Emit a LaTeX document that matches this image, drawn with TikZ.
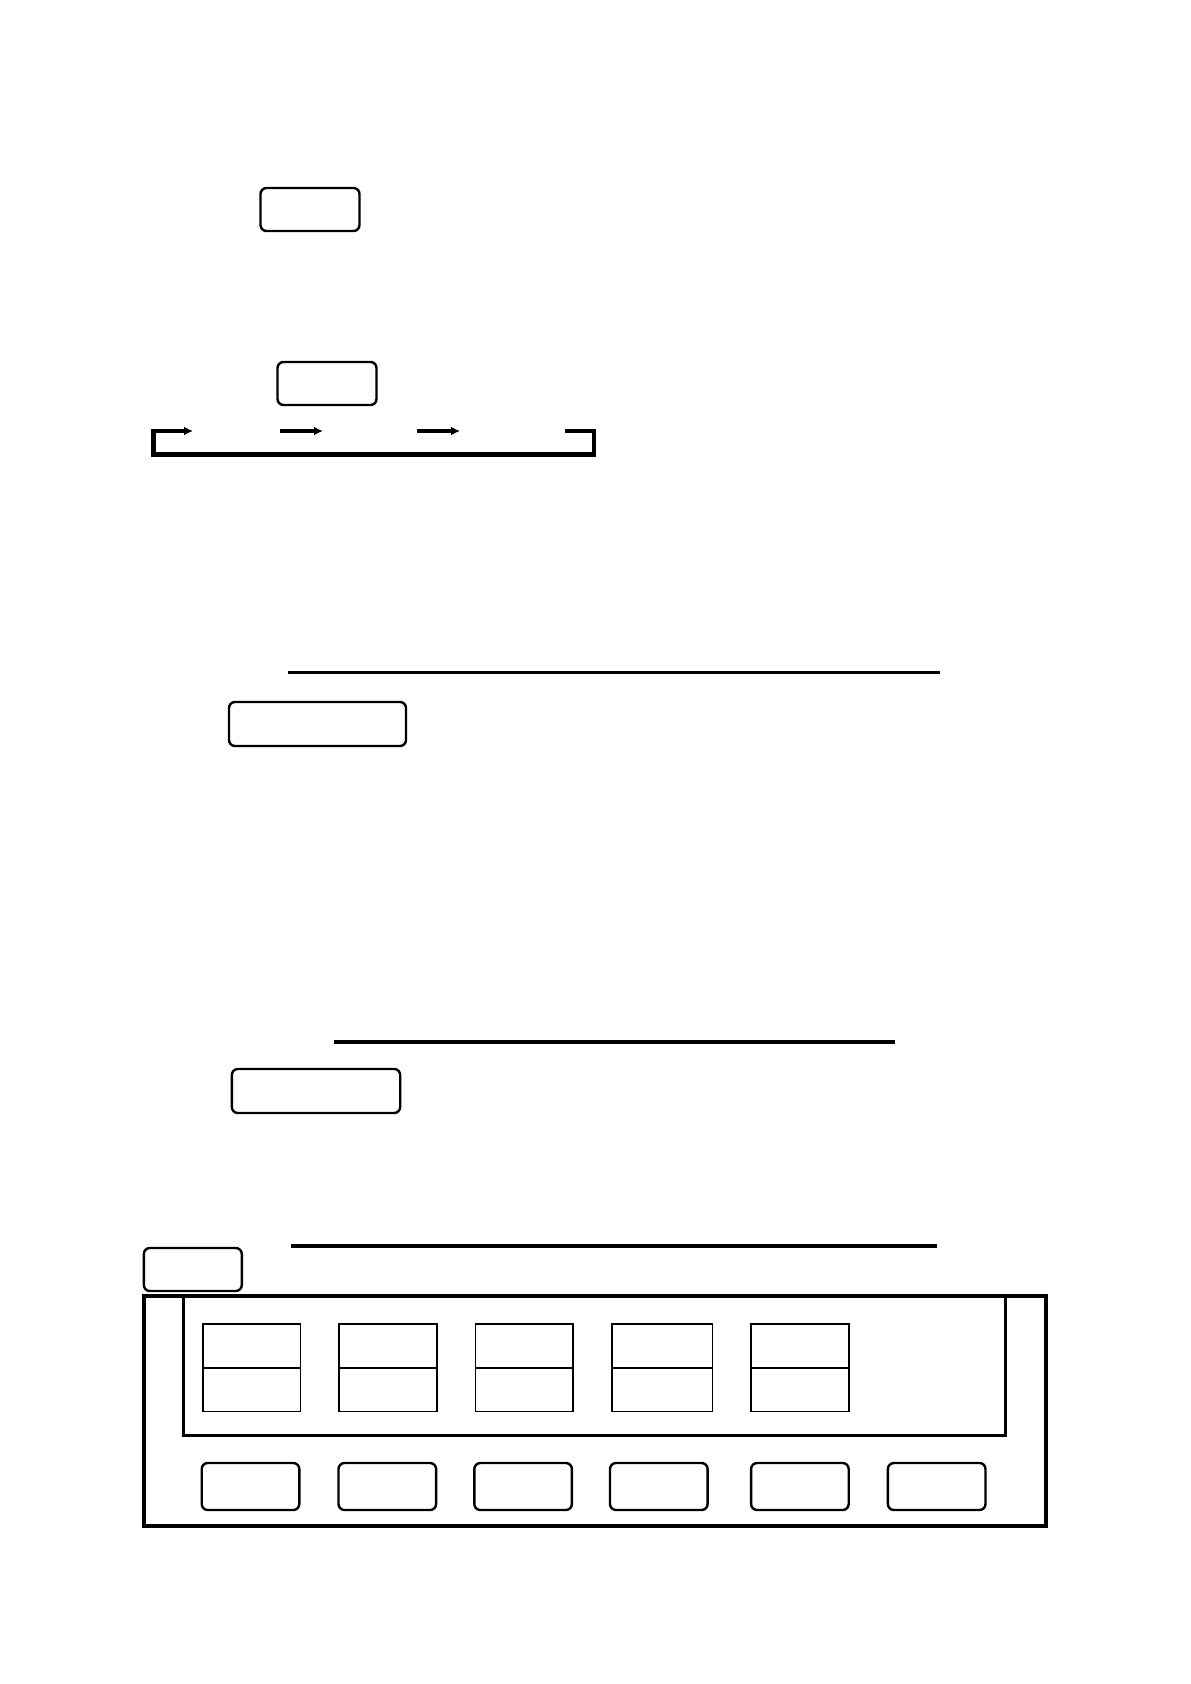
\documentclass[tikz,border=0pt]{standalone}
\usepackage{tikz}
\usetikzlibrary{arrows.meta,positioning}
\tikzstyle{tag}   =[draw, rounded corners=3pt, line width=1.2pt,
                    inner sep=0pt, minimum height=21.5pt]
\tikzstyle{keycap}=[tag, minimum width=48.8pt, minimum height=23.5pt]
\tikzstyle{cell}  =[draw, line width=0.9pt, inner sep=0pt,
                    outer sep=0pt, minimum width=48.8pt,
                    minimum height=21.8pt]
\tikzstyle{rule}  =[line width=1.5pt]
\tikzstyle{bar}   =[line width=2.2pt, line join=miter,
                    -{Latex[length=4.5pt,width=4.5pt]}]
\tikzstyle{flow}  =[line width=2pt,
                    -{Latex[length=4.5pt,width=4.5pt]}]

\begin{document}
\begin{tikzpicture}[x=0.5pt, y=-0.5pt]
            \useasboundingbox (0,0) rectangle (1190,1684);

            \node (top) [tag, minimum width=49.5pt] at (310,209.5) {};
            \node (mid) [tag, minimum width=49.5pt] at (327,383.5) {};

            \coordinate (a1) at (153.5,431);
            \coordinate (a1tip) at (193,431);
            \coordinate (a2) at (280,431);
            \coordinate (a2tip) at (323,431);
            \coordinate (a3) at (417,431);
            \coordinate (a3tip) at (460,431);
            \coordinate (s4) at (565,431);
            \coordinate (c1) at (153.5,454.5);
            \coordinate (c2) at (594,454.5);
            \coordinate (c3) at (594,431);
            \draw[bar] (s4) -- (c3) -- (c2) -- (c1) -- (a1) -- (a1tip);
            \draw[flow] (a2) -- (a2tip);
            \draw[flow] (a3) -- (a3tip);

            \coordinate (ra1) at (288,672);
            \coordinate (ra2) at (940,672);
            \draw[rule] (ra1) -- (ra2);
            \node (lab) [tag, minimum width=88.5pt, minimum height=22pt] at (317.5,724) {};

            \coordinate (rb1) at (334,1042);
            \coordinate (rb2) at (895,1042);
            \draw[rule, line width=2pt] (rb1) -- (rb2);
            \node (sub) [tag, minimum width=84.2pt, minimum height=22pt] at (316,1091) {};

            \coordinate (rc1) at (291,1246);
            \coordinate (rc2) at (937,1246);
            \draw[rule, line width=1.6pt] (rc1) -- (rc2);
            \node (head) [tag, minimum width=49pt] at (192.8,1269.5) {};

            \draw[line width=2pt] (144,1296) rectangle (1046,1526);
            \draw[rule] (183.5,1296) -- (183.5,1435) -- (1005,1435) -- (1005,1296);

            \node (t1) [cell] at (251.6,1346) {};
            \node (u1) [cell, below=0pt of t1] {};
            \node (t2) [cell] at (387.9,1346) {};
            \node (u2) [cell, below=0pt of t2] {};
            \node (t3) [cell] at (524.2,1346) {};
            \node (u3) [cell, below=0pt of t3] {};
            \node (t4) [cell, minimum width=50.4pt] at (662,1346) {};
            \node (u4) [cell, minimum width=50.4pt, below=0pt of t4] {};
            \node (t5) [cell] at (799.9,1346) {};
            \node (u5) [cell, below=0pt of t5] {};

            \node (k1) [keycap] at (250.5,1486.5) {};
            \node (k2) [keycap] at (387.3,1486.5) {};
            \node (k3) [keycap] at (523.1,1486.5) {};
            \node (k4) [keycap] at (658.8,1486.5) {};
            \node (k5) [keycap] at (799.9,1486.5) {};
            \node (k6) [keycap] at (936.7,1486.5) {};
        \end{tikzpicture}
\end{document}
